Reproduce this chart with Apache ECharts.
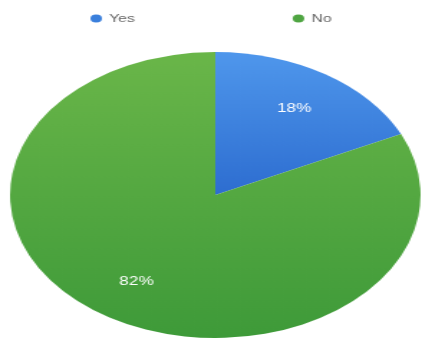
<!DOCTYPE html>
<html>
<head>
<meta charset="utf-8">
<script src="https://cdn.jsdelivr.net/npm/echarts@6/dist/echarts.min.js"></script>
<style>
html,body{margin:0;padding:0;background:#fff;overflow:hidden;}
#wrap{position:absolute;left:0;top:0;width:422px;height:340px;overflow:hidden;}
#chart{position:absolute;left:0;top:0;width:294px;height:340px;transform-origin:0 0;transform:scaleX(1.4354);}
</style>
</head>
<body>
<div id="wrap"><div id="chart"></div></div>
<script>
var categories = ['Yes', 'No'];
var values = [18, 82];
var labels = ['18%', '82%'];

var fills = [
  new echarts.graphic.LinearGradient(0, 0, 0, 1, [{offset: 0, color: '#4f97ec'}, {offset: 1, color: '#2d6dd0'}]),
  new echarts.graphic.LinearGradient(0, 0, 0, 1, [{offset: 0, color: '#6ab649'}, {offset: 1, color: '#3e9a39'}])
];
var legendColors = ['#3a7fdc', '#4fa542'];

var chart = echarts.init(document.getElementById('chart'), null, {renderer: 'canvas'});
chart.setOption({
  animation: false,
  backgroundColor: 'transparent',
  legend: {
    top: 8,
    left: 58,
    itemGap: 110,
    itemWidth: 8,
    itemHeight: 8,
    icon: 'circle',
    textStyle: {color: '#666', fontSize: 11, fontFamily: 'Liberation Sans'},
    data: categories.map(function (c, i) {
      return {name: c, itemStyle: {color: legendColors[i]}};
    })
  },
  series: [
    {
      type: 'pie',
      center: [150, 195],
      radius: [0, 143],
      startAngle: 90,
      clockwise: true,
      silent: true,
      label: {show: false},
      labelLine: {show: false},
      data: categories.map(function (c, i) {
        return {name: c, value: values[i], itemStyle: {color: fills[i]}};
      })
    },
    {
      type: 'pie',
      center: [150, 195],
      radius: [56, 143],
      startAngle: 90,
      clockwise: true,
      silent: true,
      legendHoverLink: false,
      itemStyle: {color: 'rgba(0,0,0,0)'},
      label: {
        show: true,
        position: 'inside',
        color: '#fff',
        fontSize: 12,
        fontFamily: 'Liberation Sans',
        formatter: function (p) { return labels[p.dataIndex]; }
      },
      labelLine: {show: false},
      data: categories.map(function (c, i) {
        return {name: c + ' ', value: values[i]};
      })
    }
  ]
});
</script>
</body>
</html>
